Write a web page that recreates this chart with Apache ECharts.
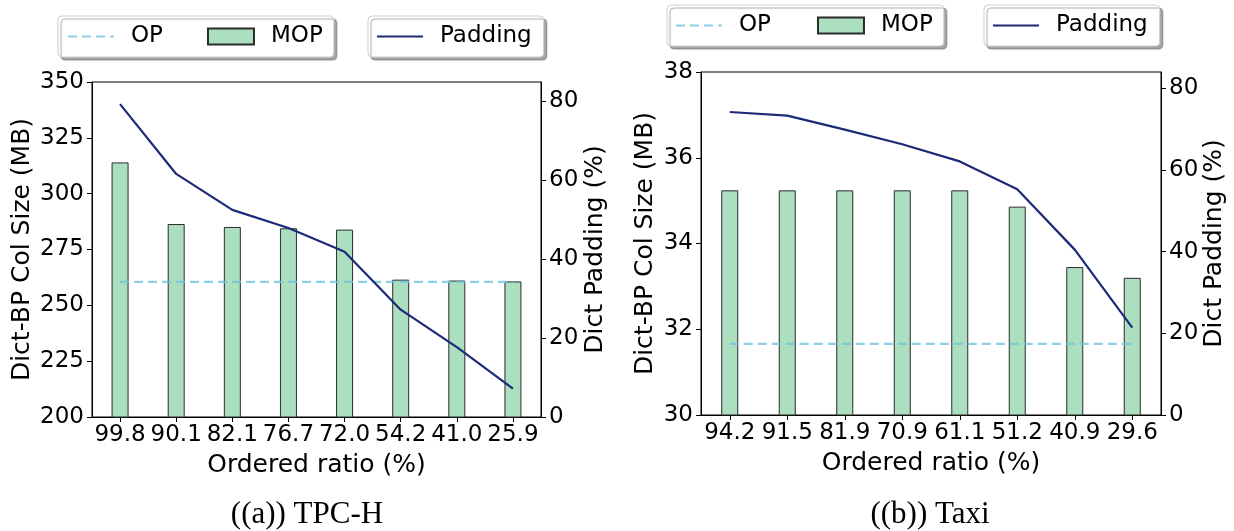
<!DOCTYPE html>
<html>
<head>
<meta charset="utf-8">
<script src="https://cdn.jsdelivr.net/npm/echarts@6/dist/echarts.min.js"></script>
<style>
html,body{margin:0;padding:0;background:#fff;}
#c{width:1234px;height:531px;}
</style>
</head>
<body>
<div id="c"></div>
<script>
// ---- data ----
const catsA = ['99.8','90.1','82.1','76.7','72.0','54.2','41.0','25.9'];
const mopA  = [314.0, 286.4, 285.1, 284.5, 283.9, 261.5, 261.1, 260.7];
const opA   = [260.5, 260.5, 260.5, 260.5, 260.5, 260.5, 260.5, 260.5];
const padA  = [79.3, 61.6, 52.5, 47.9, 41.9, 27.2, 17.7, 7.2];

const catsB = ['94.2','91.5','81.9','70.9','61.1','51.2','40.9','29.6'];
const mopB  = [35.24, 35.24, 35.24, 35.24, 35.24, 34.86, 33.45, 33.2];
const opB   = [31.66, 31.66, 31.66, 31.66, 31.66, 31.66, 31.66, 31.66];
const padB  = [74.2, 73.3, 69.9, 66.3, 62.1, 55.3, 40.5, 21.4];

const rightTicks = [0, 20, 40, 60, 80];
const xTitle = 'Ordered ratio (%)';
const yLeftTitle = 'Dict-BP Col Size (MB)';
const yRightTitle = 'Dict Padding (%)';
const captions = ['((a)) TPC-H', '((b)) Taxi'];

// ---- styles ----
const FONT = 'DejaVu Sans';
const FS_TICK = 23;
const FS_TITLE = 25;
const FS_LEG = 23;
const OP_COLOR = 'rgba(110,195,222,0.78)';
const MOP_COLOR = '#abdfc0';
const PAD_COLOR = '#1c2a78';

const chart = echarts.init(document.getElementById('c'), null, {renderer: 'canvas'});

function xAxis(gi, cats) {
  return {
    type: 'category', gridIndex: gi, data: cats,
    boundaryGap: true,
    axisLine: {show: true, lineStyle: {color: '#000', width: 1}},
    axisTick: {show: true, alignWithLabel: true, length: 5, lineStyle: {color: '#000'}},
    axisLabel: {interval: 0, color: '#000', fontFamily: FONT, fontSize: FS_TICK, margin: 7},
    name: xTitle, nameLocation: 'middle', nameGap: 36,
    nameTextStyle: {color: '#000', fontFamily: FONT, fontSize: FS_TITLE},
    splitLine: {show: false}
  };
}
function yLeft(gi, min, max, interval, gap) {
  return {
    type: 'value', gridIndex: gi, position: 'left', min, max, interval,
    axisLine: {show: true, lineStyle: {color: '#000', width: 1}},
    axisTick: {show: true, length: 5, lineStyle: {color: '#000'}},
    axisLabel: {color: '#000', fontFamily: FONT, fontSize: FS_TICK, margin: 8},
    splitLine: {show: false},
    name: yLeftTitle, nameLocation: 'middle', nameRotate: 90, nameGap: gap,
    nameTextStyle: {color: '#000', fontFamily: FONT, fontSize: FS_TITLE}
  };
}
function yRight(gi, max, gap) {
  return {
    type: 'value', gridIndex: gi, position: 'right', min: 0, max, interval: 20,
    axisLine: {show: true, lineStyle: {color: '#000', width: 1}},
    axisTick: {show: true, length: 5, lineStyle: {color: '#000'}, customValues: rightTicks},
    axisLabel: {color: '#000', fontFamily: FONT, fontSize: FS_TICK, margin: 8, customValues: rightTicks},
    splitLine: {show: false},
    name: yRightTitle, nameLocation: 'middle', nameRotate: 90, nameGap: gap,
    nameTextStyle: {color: '#000', fontFamily: FONT, fontSize: FS_TITLE}
  };
}
function series(xi, yl, yr, op, mop, pad) {
  return [
    {name: 'MOP', type: 'bar', xAxisIndex: xi, yAxisIndex: yl, data: mop, barWidth: 17,
     itemStyle: {color: MOP_COLOR, borderColor: '#2b2b2b', borderWidth: 1}, z: 2},
    {name: 'OP', type: 'line', xAxisIndex: xi, yAxisIndex: yl, data: op, symbol: 'none',
     lineStyle: {color: OP_COLOR, width: 2.2, type: [9, 5]}, itemStyle: {color: OP_COLOR}, z: 3},
    {name: 'Padding', type: 'line', xAxisIndex: xi, yAxisIndex: yr, data: pad, symbol: 'none',
     lineStyle: {color: PAD_COLOR, width: 2.2}, itemStyle: {color: PAD_COLOR}, z: 4}
  ];
}
function legend(left, top, names, gap, pad) {
  return {
    left, top, orient: 'horizontal', itemGap: gap, padding: pad,
    itemWidth: 46, itemHeight: 16, selectedMode: false,
    data: names.map(n => n === 'MOP'
      ? {name: n, icon: 'rect'}
      : {name: n, itemStyle: {color: 'rgba(0,0,0,0)', borderWidth: 0, opacity: 0}}),
    textStyle: {color: '#000', fontFamily: FONT, fontSize: FS_LEG, padding: [0, 0, 0, 12]},
    backgroundColor: '#fff', borderColor: '#cfcfcf', borderWidth: 1, borderRadius: 4,
    shadowColor: 'rgba(0,0,0,0.35)', shadowBlur: 1, shadowOffsetX: 3, shadowOffsetY: 3
  };
}

chart.setOption({
  animation: false,
  backgroundColor: '#fff',
  grid: [
    {left: 92, top: 82, width: 449, height: 335, show: true, borderColor: '#000', borderWidth: 1, containLabel: false},
    {left: 701, top: 72, width: 460, height: 343, show: true, borderColor: '#000', borderWidth: 1, containLabel: false}
  ],
  xAxis: [xAxis(0, catsA), xAxis(1, catsB)],
  yAxis: [
    yLeft(0, 200, 350, 25, 57),
    yRight(0, 84.9, 42),
    yLeft(1, 30, 38, 2, 43),
    yRight(1, 84, 41)
  ],
  legend: [
    legend(58, 16, ['OP', 'MOP'], 44, [9, 11, 9, 9]),
    legend(368, 16, ['Padding'], 10, [9, 12, 9, 8]),
    legend(667, 5, ['OP', 'MOP'], 46, [9, 11, 9, 8]),
    legend(984, 5, ['Padding'], 10, [9, 12, 9, 8])
  ],
  graphic: [
    {type: 'text', x: 307, y: 515, style: {text: captions[0], font: '31px "Liberation Serif"', fill: '#000', align: 'center', verticalAlign: 'middle'}},
    {type: 'text', x: 930, y: 515, style: {text: captions[1], font: '31px "Liberation Serif"', fill: '#000', align: 'center', verticalAlign: 'middle'}}
  ],
  series: [
    ...series(0, 0, 1, opA, mopA, padA),
    ...series(1, 2, 3, opB, mopB, padB)
  ]
});
</script>
</body>
</html>
